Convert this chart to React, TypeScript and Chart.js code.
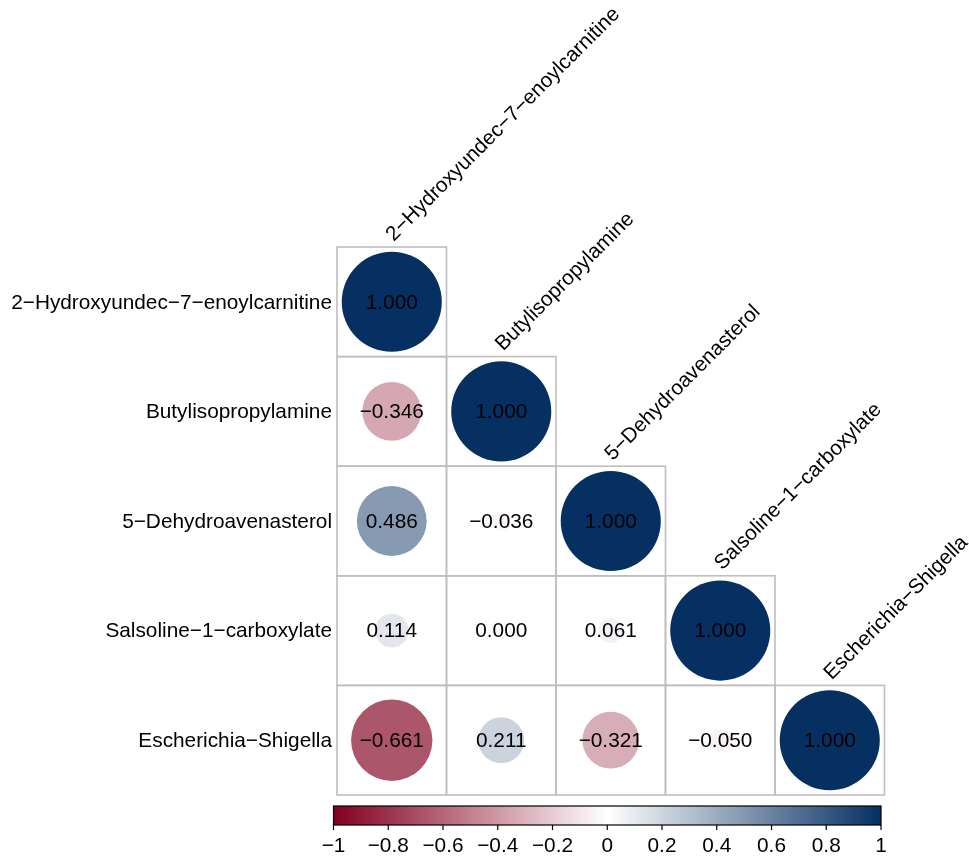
import { useEffect, useRef } from "react";
import { Chart, registerables } from "chart.js";

Chart.register(...registerables);

const variables = [
  "2\u2212Hydroxyundec\u22127\u2212enoylcarnitine",
  "Butylisopropylamine",
  "5\u2212Dehydroavenasterol",
  "Salsoline\u22121\u2212carboxylate",
  "Escherichia\u2212Shigella",
];

// lower triangle of the correlation matrix (row i, columns 0..i)
const row0 = [1.0];
const row1 = [-0.346, 1.0];
const row2 = [0.486, -0.036, 1.0];
const row3 = [0.114, 0.0, 0.061, 1.0];
const row4 = [-0.661, 0.211, -0.321, -0.05, 1.0];
const corrRows: number[][] = [row0, row1, row2, row3, row4];

const colorbarTicks = [-1, -0.8, -0.6, -0.4, -0.2, 0, 0.2, 0.4, 0.6, 0.8, 1];

const negEnd = [130, 0, 32];
const posEnd = [6, 48, 97];

const FONT = '"Liberation Sans", Arial, Helvetica, sans-serif';
const FONT_SIZE = 20.8;

function corrColor(v: number): string {
  const t = Math.min(1, Math.abs(v));
  const end = v < 0 ? negEnd : posEnd;
  const c = end.map((e) => Math.round(255 + (e - 255) * t));
  return `rgb(${c[0]},${c[1]},${c[2]})`;
}

function minus(s: string): string {
  return s.replace("-", "\u2212");
}

const corrPlugin = {
  id: "corrDecor",
  beforeDatasetsDraw(chart: any) {
    const { ctx } = chart;
    const x = chart.scales.x;
    const y = chart.scales.y;
    ctx.save();
    ctx.strokeStyle = "#BEBEBE";
    ctx.lineWidth = 1.6;
    corrRows.forEach((row, i) => {
      row.forEach((_v, j) => {
        const l = x.getPixelForValue(j - 0.5);
        const r = x.getPixelForValue(j + 0.5);
        const t = y.getPixelForValue(i - 0.5);
        const b = y.getPixelForValue(i + 0.5);
        ctx.strokeRect(l, t, r - l, b - t);
      });
    });
    ctx.restore();
  },
  afterDatasetsDraw(chart: any) {
    const { ctx } = chart;
    const x = chart.scales.x;
    const y = chart.scales.y;
    ctx.save();
    ctx.fillStyle = "#000";
    ctx.font = `${FONT_SIZE}px ${FONT}`;
    ctx.textAlign = "center";
    ctx.textBaseline = "middle";
    corrRows.forEach((row, i) => {
      row.forEach((v, j) => {
        ctx.fillText(minus(v.toFixed(3)), x.getPixelForValue(j), y.getPixelForValue(i) + 1);
      });
    });
    ctx.restore();
  },
  afterDraw(chart: any) {
    const { ctx, chartArea } = chart;
    const x = chart.scales.x;
    const y = chart.scales.y;
    ctx.save();
    ctx.fillStyle = "#000";
    ctx.font = `${FONT_SIZE}px ${FONT}`;
    // row labels on the left
    ctx.textAlign = "right";
    ctx.textBaseline = "middle";
    variables.forEach((name, i) => {
      ctx.fillText(name, chartArea.left - 5, y.getPixelForValue(i) + 1);
    });
    // column labels rotated above diagonal cells
    ctx.textAlign = "left";
    ctx.textBaseline = "alphabetic";
    variables.forEach((name, j) => {
      const cx = x.getPixelForValue(j);
      const top = y.getPixelForValue(j - 0.5);
      ctx.save();
      ctx.translate(cx + 2, top - 5);
      ctx.rotate(-Math.PI / 4);
      ctx.fillText(name, 0, 0);
      ctx.restore();
    });
    // colour bar
    const cbL = chartArea.left - 3.5;
    const cbR = chartArea.right - 3.5;
    const cbT = chartArea.bottom + 11;
    const cbB = cbT + 19;
    const grad = ctx.createLinearGradient(cbL, 0, cbR, 0);
    for (let k = 0; k <= 40; k++) {
      const v = -1 + (2 * k) / 40;
      grad.addColorStop(k / 40, corrColor(v));
    }
    ctx.fillStyle = grad;
    ctx.fillRect(cbL, cbT, cbR - cbL, cbB - cbT);
    ctx.strokeStyle = "#000";
    ctx.lineWidth = 1.2;
    ctx.strokeRect(cbL, cbT, cbR - cbL, cbB - cbT);
    ctx.fillStyle = "#000";
    ctx.textAlign = "center";
    ctx.textBaseline = "middle";
    colorbarTicks.forEach((v) => {
      const px = cbL + ((v + 1) / 2) * (cbR - cbL);
      ctx.beginPath();
      ctx.moveTo(px, cbB);
      ctx.lineTo(px, cbB + 5);
      ctx.stroke();
      const label = minus(String(Math.round(v * 10) / 10));
      ctx.fillText(label, px, cbB + 21);
    });
    ctx.restore();
  },
};

export default function App() {
  const canvasRef = useRef<HTMLCanvasElement | null>(null);

  useEffect(() => {
    if (!canvasRef.current) return;
    const points: { x: number; y: number; v: number }[] = [];
    corrRows.forEach((row, i) => {
      row.forEach((v, j) => points.push({ x: j, y: i, v }));
    });
    const radiusFor = (c: any) => {
      const p = points[c.dataIndex];
      const sx = c.chart.scales.x;
      if (!p || !sx) return 0;
      const cell = Math.abs(sx.getPixelForValue(1) - sx.getPixelForValue(0));
      return Math.sqrt(Math.abs(p.v)) * cell * 0.457;
    };
    const colorFor = (c: any) => {
      const p = points[c.dataIndex];
      return corrColor(p ? p.v : 0);
    };
    const chart = new Chart(canvasRef.current, {
      type: "scatter",
      data: {
        datasets: [
          {
            data: points,
            showLine: false,
            pointBackgroundColor: colorFor,
            pointBorderColor: colorFor,
            pointBorderWidth: 0,
            pointRadius: radiusFor,
            pointHoverRadius: radiusFor,
            pointHoverBorderWidth: 0,
            clip: false,
          } as any,
        ],
      },
      options: {
        responsive: false,
        animation: false,
        events: [],
        devicePixelRatio: 1,
        layout: { padding: { left: 337, right: 84.5, top: 247, bottom: 62 } },
        scales: {
          x: { type: "linear", min: -0.5, max: 4.5, display: false },
          y: { type: "linear", min: -0.5, max: 4.5, reverse: true, display: false },
        },
        plugins: {
          legend: { display: false },
          tooltip: { enabled: false },
        },
      },
      plugins: [corrPlugin],
    });
    return () => chart.destroy();
  }, []);

  return (
    <div style={{ position: "fixed", left: 0, top: 0, width: 969, height: 857, background: "#fff" }}>
      <canvas ref={canvasRef} width={969} height={857} style={{ width: 969, height: 857 }} />
    </div>
  );
}
